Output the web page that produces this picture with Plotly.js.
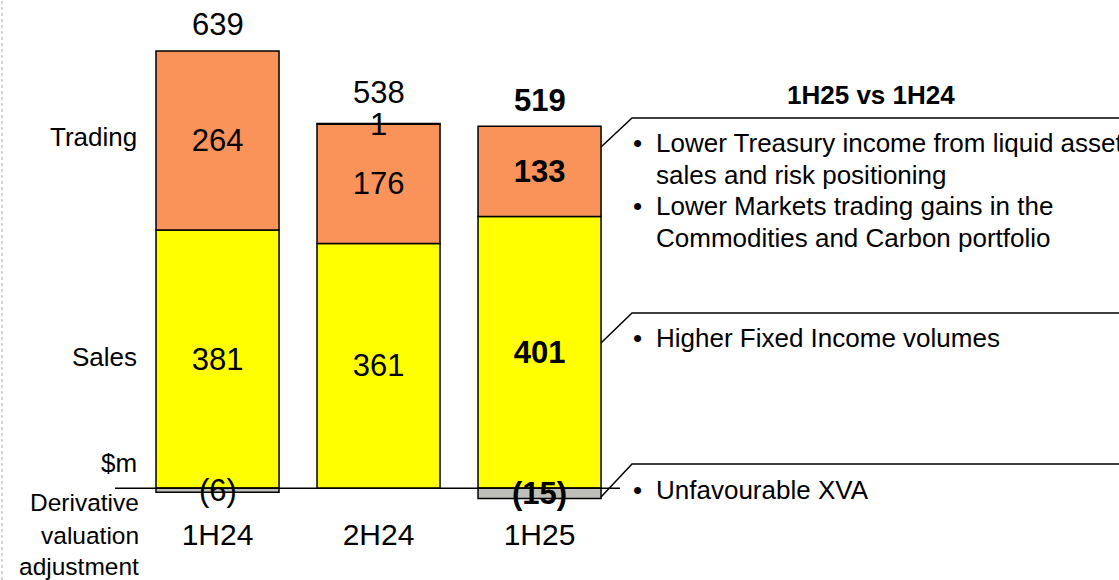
<!DOCTYPE html>
<html>
<head>
<meta charset="utf-8">
<script src="https://cdn.plot.ly/plotly-3.0.1.min.js"></script>
<style>html,body{margin:0;padding:0;background:#fff;}#chart{width:1119px;height:580px;}</style>
</head>
<body>
<div id="chart"></div>
<script>
// ---- data ----
const categories = ['1H24', '2H24', '1H25'];
const sales = [381, 361, 401];
const trading = [264, 176, 133];
const dva = [-6, 1, -15];
const totals = [639, 538, 519];
const highlightIndex = 2; // current period shown in bold
const rowLabels = ['Trading', 'Sales', '$m'];
const dvaRowLabel = ['Derivative', 'valuation', 'adjustment'];
const notesTitle = '1H25 vs 1H24';
const tradingNotes = [['Lower Treasury income from liquid assets', 'sales and risk positioning'],
                      ['Lower Markets trading gains in the', 'Commodities and Carbon portfolio']];
const salesNotes = [['Higher Fixed Income volumes']];
const dvaNotes = [['Unfavourable XVA']];

// ---- style ----
const FONT = 'Liberation Sans, Arial, sans-serif';
const W = 1119, H = 580;
const px = x => x / W;
const py = y => 1 - y / H;
const fmt = (v, i) => {
  const s = v < 0 ? '(' + (-v) + ')' : String(v);
  return i === highlightIndex ? '<b>' + s + '</b>' : s;
};
const lineStyle = {color: '#000', width: 1.5};
const VAL_SIZE = 31;

const traces = [
  {type: 'bar', name: 'Sales', x: categories, y: sales,
   marker: {color: '#FFFF00', line: lineStyle},
   text: sales.map(fmt), textposition: 'inside', insidetextanchor: 'middle',
   textangle: 0, constraintext: 'none',
   textfont: {family: FONT, size: VAL_SIZE, color: '#000'}, hoverinfo: 'skip'},
  {type: 'bar', name: 'Trading', x: categories, y: trading,
   marker: {color: '#F9935A', line: lineStyle},
   text: trading.map(fmt), textposition: 'inside', insidetextanchor: 'middle',
   textangle: 0, constraintext: 'none',
   textfont: {family: FONT, size: VAL_SIZE, color: '#000'}, hoverinfo: 'skip'},
  {type: 'bar', name: 'Derivative valuation adjustment', x: categories, y: dva,
   marker: {color: '#BFBFBA', line: lineStyle},
   textposition: 'none', hoverinfo: 'skip'}
];

const annotations = [];
// totals above bars and derivative valuation adjustment labels
categories.forEach((c, i) => {
  const top = sales[i] + trading[i] + Math.max(dva[i], 0);
  annotations.push({x: c, y: top, xref: 'x', yref: 'y', showarrow: false,
    text: fmt(totals[i], i), yanchor: 'middle', yshift: dva[i] > 0 ? 31 : 26,
    font: {family: FONT, size: VAL_SIZE, color: '#000'}});
  annotations.push({x: c, y: dva[i] > 0 ? top : dva[i] / 2, xref: 'x', yref: 'y', showarrow: false,
    text: fmt(dva[i], i), yanchor: 'middle', yshift: dva[i] > 0 ? -1 : 0,
    font: {family: FONT, size: VAL_SIZE, color: '#000'}});
});
// left row labels
const rowY = [137, 357, 463];
rowLabels.forEach((t, i) => {
  annotations.push({x: px(139), y: py(rowY[i]), xref: 'paper', yref: 'paper', showarrow: false,
    text: t, xanchor: 'right', yanchor: 'middle', align: 'right',
    font: {family: FONT, size: 26, color: '#000'}});
});
const dvaRowY = [502, 535, 566];
dvaRowLabel.forEach((t, i) => {
  annotations.push({x: px(141), y: py(dvaRowY[i]), xref: 'paper', yref: 'paper', showarrow: false,
    text: t, xanchor: 'right', yanchor: 'middle', align: 'right',
    font: {family: FONT, size: 24.5, color: '#000'}});
});
// commentary
annotations.push({x: px(871), y: py(95), xref: 'paper', yref: 'paper', showarrow: false,
  text: '<b>' + notesTitle + '</b>', xanchor: 'center', yanchor: 'middle',
  font: {family: FONT, size: 26, color: '#000'}});
const noteBlocks = [
  {notes: tradingNotes, ys: [143, 206]},
  {notes: salesNotes, ys: [338]},
  {notes: dvaNotes, ys: [490]}
];
noteBlocks.forEach(b => {
  b.notes.forEach((lines, j) => {
    annotations.push({x: px(637), y: py(b.ys[j]), xref: 'paper', yref: 'paper', showarrow: false,
      text: '•', xanchor: 'center', yanchor: 'middle',
      font: {family: FONT, size: 26, color: '#000'}});
    lines.forEach((t, k) => {
      annotations.push({x: px(654), y: py(b.ys[j] + k * 31.5), xref: 'paper', yref: 'paper', showarrow: false,
        text: t, xanchor: 'left', yanchor: 'middle', align: 'left',
        font: {family: FONT, size: 26, color: '#000'}});
    });
  });
});

const calloutPath = (y0, y1) =>
  `M ${px(601)},${py(y0)} L ${px(632)},${py(y1)} L 1,${py(y1)}`;
const shapes = [
  {type: 'line', xref: 'paper', yref: 'paper', x0: px(2), x1: px(2), y0: 0, y1: 1,
   line: {color: '#AAAAAA', width: 1, dash: 'dot'}},
  {type: 'line', xref: 'paper', yref: 'y', x0: px(115), x1: px(620), y0: 0, y1: 0,
   line: {color: '#000', width: 1.5}, layer: 'above'},
  {type: 'path', xref: 'paper', yref: 'paper', path: calloutPath(147, 118), line: {color: '#000', width: 1.5}},
  {type: 'path', xref: 'paper', yref: 'paper', path: calloutPath(343, 313), line: {color: '#000', width: 1.5}},
  {type: 'path', xref: 'paper', yref: 'paper', path: calloutPath(497, 464), line: {color: '#000', width: 1.5}}
];

const layout = {
  width: W, height: H,
  margin: {l: 0, r: 0, t: 0, b: 0},
  paper_bgcolor: '#fff', plot_bgcolor: '#fff',
  barmode: 'relative', bargap: 0.236, showlegend: false,
  font: {family: FONT, color: '#000'},
  xaxis: {type: 'category', range: [-1.351, 5.599], showgrid: false, zeroline: false,
    showline: false, ticks: '', anchor: 'free', position: (H - 488.3) / H,
    ticklabelstandoff: 26, tickfont: {family: FONT, size: 30, color: '#000'}, fixedrange: true},
  yaxis: {range: [-135.3, 720.2], visible: false, fixedrange: true},
  annotations: annotations,
  shapes: shapes
};

Plotly.newPlot('chart', traces, layout, {displayModeBar: false, staticPlot: true});
</script>
</body>
</html>
